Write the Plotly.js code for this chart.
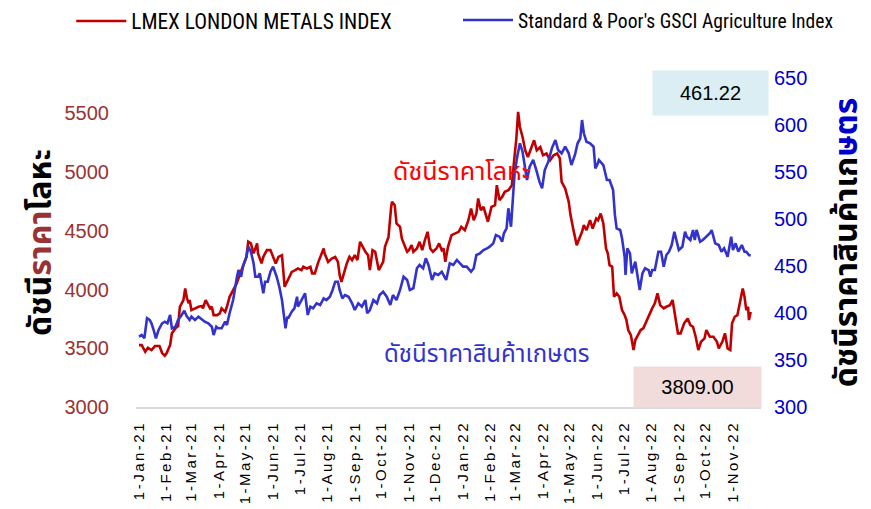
<!DOCTYPE html>
<html>
<head>
<meta charset="utf-8">
<script src="https://cdn.plot.ly/plotly-3.0.1.min.js"></script>
<style>
  html, body { margin: 0; padding: 0; background: #fff; }
  #chart { width: 871px; height: 509px; }
  .xtick text { letter-spacing: 2.5px; }
</style>
</head>
<body>
<div id="chart"></div>
<script>
// Day offsets counted from 1-Jan-2021
const startDate = '2021-01-01';

const metalDay = [0,3,7,10,14,18,23,26,29,31,35,37,41,44,46,50,52,54,56,57,59,63,67,71,72,75,78,80,82,84,88,91,93,97,99,102,106,110,114,117,121,123,126,129,133,134,138,140,144,148,151,154,157,161,164,168,172,176,179,183,185,189,193,195,198,202,206,208,209,213,217,221,224,226,228,231,234,237,240,243,246,249,251,255,258,260,263,266,270,273,275,277,281,284,285,288,290,294,296,299,302,304,307,309,313,316,319,322,325,328,331,335,338,341,343,345,348,352,356,360,363,367,371,374,377,380,382,385,388,391,393,397,401,403,406,409,412,416,420,422,425,427,429,432,435,438,442,445,448,452,455,459,463,467,471,474,476,480,484,486,489,493,496,499,501,504,508,511,515,517,520,523,526,528,530,533,535,538,541,544,547,549,551,554,557,559,562,565,568,572,576,578,581,584,587,591,594,598,601,604,607,610,614,618,621,624,627,630,633,637,639,643,647,651,653,657,660,663,666,668,671,674,677,680,682,684,686,687,689];
const metalValue = [3527,3527,3470,3504,3485,3519,3519,3459,3436,3457,3527,3627,3669,3689,3853,3910,4009,3924,3882,3910,3825,3839,3853,3859,3839,3910,3867,3839,3853,3782,3782,3797,3839,3810,3853,3938,3995,4052,4137,4193,4278,4406,4392,4307,4392,4307,4222,4278,4335,4335,4278,4222,4278,4292,4023,4080,4150,4165,4179,4165,4193,4179,4193,4137,4137,4235,4321,4349,4307,4235,4264,4278,4235,4122,4065,4150,4222,4278,4250,4292,4250,4406,4377,4321,4292,4165,4335,4321,4165,4207,4235,4363,4448,4703,4746,4718,4562,4533,4434,4377,4321,4335,4377,4321,4349,4406,4335,4420,4491,4349,4321,4349,4392,4335,4349,4235,4363,4463,4477,4491,4533,4505,4590,4690,4590,4647,4775,4675,4703,4633,4576,4703,4718,4888,4761,4788,4831,4845,4888,5058,5285,5511,5383,5298,5185,5128,5200,5270,5185,5213,5143,5157,5100,5143,5157,5115,4916,4860,4746,4633,4519,4377,4434,4491,4548,4505,4590,4519,4604,4590,4647,4562,4349,4307,4207,4193,3938,3967,3938,3825,3782,3740,3655,3612,3485,3570,3612,3655,3669,3740,3797,3839,3882,3967,3867,3839,3853,3867,3910,3782,3627,3627,3712,3754,3697,3683,3598,3485,3555,3584,3655,3598,3598,3555,3499,3555,3627,3499,3485,3712,3768,3782,3910,4009,3938,3825,3853,3740,3809];

const agriDay = [0,3,6,9,12,14,17,19,22,26,29,32,35,37,41,44,48,51,54,57,59,63,67,71,74,78,82,84,87,89,93,97,99,102,106,110,112,115,117,121,123,126,129,131,134,136,138,140,142,145,148,151,155,158,161,163,165,167,168,172,175,178,179,183,187,190,193,196,200,204,208,211,215,218,221,224,226,229,232,236,240,243,247,251,255,257,260,264,268,271,275,279,283,286,290,294,298,302,305,309,313,316,320,323,326,330,333,337,341,343,346,350,354,358,362,365,369,374,377,380,384,388,392,395,399,402,406,409,411,414,416,419,421,423,426,429,432,435,437,440,444,448,451,454,457,461,465,469,472,476,480,484,487,491,494,497,499,501,504,508,512,514,516,518,523,527,530,534,535,536,538,542,544,547,548,550,553,555,559,561,564,567,570,574,576,578,581,585,588,591,594,597,600,603,606,608,612,615,617,621,624,626,628,632,635,639,643,645,649,653,656,659,663,667,669,672,675,679,682,684,687,689];
const agriValue = [374.8,376.6,373.1,394.4,392.6,389.0,380.1,373.1,381.9,389.0,390.7,389.0,397.9,383.7,385.4,392.6,397.9,402.4,396.1,392.6,396.1,392.6,396.1,392.6,390.7,389.0,385.4,376.6,385.4,383.7,383.7,390.7,387.2,399.7,413.8,436.9,445.7,438.6,449.3,459.9,470.5,465.2,452.9,438.6,438.6,442.2,433.3,421.0,433.3,433.3,443.9,449.3,438.6,428.0,413.8,399.7,383.7,396.1,394.4,401.4,405.0,417.3,406.7,413.8,421.0,397.9,406.7,405.0,410.3,408.5,415.6,413.8,417.3,424.5,433.3,433.3,424.5,415.6,419.1,417.3,410.3,403.2,410.3,406.7,413.8,399.7,403.2,413.8,410.3,419.1,422.7,417.3,408.5,419.1,413.8,424.5,438.6,435.1,424.5,426.3,447.6,451.1,447.6,458.2,451.1,435.1,442.2,440.4,443.9,440.4,435.1,452.9,451.1,456.4,452.9,449.3,449.3,443.9,447.6,461.7,463.5,467.0,468.8,470.5,474.1,483.0,481.2,475.8,484.8,490.1,511.4,491.8,520.2,548.6,566.3,580.5,571.6,555.6,541.5,555.6,562.8,550.3,539.7,532.7,552.1,561.0,575.2,584.0,573.4,569.9,576.9,569.9,557.4,568.1,580.5,585.8,605.3,591.2,582.2,580.5,576.9,553.9,557.4,562.8,557.4,541.5,541.5,530.8,514.9,504.3,490.1,488.3,479.5,459.9,440.4,468.8,463.5,442.2,454.6,442.2,424.5,442.2,447.6,445.7,438.6,445.7,445.7,465.2,465.2,449.3,461.7,465.2,472.3,486.5,475.8,467.0,470.5,486.5,481.2,477.7,488.3,477.7,488.3,475.8,477.7,481.2,484.8,488.3,474.1,472.3,465.2,468.8,459.9,481.2,467.0,474.1,465.2,472.3,465.2,465.2,461.7,461.22];

const tickDates = ['2021-01-01','2021-02-01','2021-03-01','2021-04-01','2021-05-01','2021-06-01','2021-07-01','2021-08-01','2021-09-01','2021-10-01','2021-11-01','2021-12-01','2022-01-01','2022-02-01','2022-03-01','2022-04-01','2022-05-01','2022-06-01','2022-07-01','2022-08-01','2022-09-01','2022-10-01','2022-11-01'];
const tickLabels = ['1-Jan-21','1-Feb-21','1-Mar-21','1-Apr-21','1-May-21','1-Jun-21','1-Jul-21','1-Aug-21','1-Sep-21','1-Oct-21','1-Nov-21','1-Dec-21','1-Jan-22','1-Feb-22','1-Mar-22','1-Apr-22','1-May-22','1-Jun-22','1-Jul-22','1-Aug-22','1-Sep-22','1-Oct-22','1-Nov-22'];

const metalTicks = [3000,3500,4000,4500,5000,5500];
const agriTicks = [300,350,400,450,500,550,600,650];

const seriesNames = ['LMEX LONDON METALS INDEX', "Standard & Poor's GSCI Agriculture Index"];
const lastMetal = '3809.00';
const lastAgri = '461.22';

function toDate(d) {
  const t = new Date(startDate + 'T00:00:00Z').getTime() + d * 86400000;
  return new Date(t).toISOString().slice(0, 19).replace('T', ' ');
}

const n1 = Math.min(metalDay.length, metalValue.length);
const n2 = Math.min(agriDay.length, agriValue.length);

const thaiFont = "Tahoma, 'Noto Sans Thai', 'Noto Sans Thai UI', Loma, Garuda, 'Norasi', 'DejaVu Sans', sans-serif";
const latinFont = "'Liberation Sans', Arial, sans-serif";
const narrowFont = "'Liberation Sans Narrow', 'Arial Narrow', 'Roboto Condensed', 'Liberation Sans', sans-serif";

const traces = [
  {
    x: metalDay.slice(0, n1).map(toDate),
    y: metalValue.slice(0, n1),
    type: 'scatter', mode: 'lines',
    name: seriesNames[0],
    line: { color: '#c00000', width: 2.6 },
    yaxis: 'y', legend: 'legend'
  },
  {
    x: agriDay.slice(0, n2).map(toDate),
    y: agriValue.slice(0, n2),
    type: 'scatter', mode: 'lines',
    name: seriesNames[1],
    line: { color: '#3333cc', width: 2.6 },
    yaxis: 'y2', legend: 'legend2'
  }
];

const layout = {
  width: 871, height: 509,
  margin: { l: 136, r: 110, t: 78, b: 102, autoexpand: false },
  paper_bgcolor: '#ffffff', plot_bgcolor: '#ffffff',
  showlegend: true,
  legend: {
    orientation: 'h', x: -0.1036, xanchor: 'left', y: 1.235, yanchor: 'top',
    font: { family: narrowFont, size: 21.3, color: '#000' }, itemwidth: 50, bgcolor: 'rgba(0,0,0,0)'
  },
  legend2: {
    orientation: 'h', x: 0.5152, xanchor: 'left', y: 1.235, yanchor: 'top',
    font: { family: narrowFont, size: 19.6, color: '#000' }, itemwidth: 50, bgcolor: 'rgba(0,0,0,0)'
  },
  xaxis: {
    type: 'date',
    range: ['2020-12-28 14:00', '2022-12-02 14:00'],
    tickmode: 'array', tickvals: tickDates, ticktext: tickLabels,
    tickangle: -90,
    tickfont: { family: latinFont, size: 15, color: '#000' },
    ticklabelstandoff: 6,
    showline: true, linecolor: '#d9d9d9', linewidth: 2,
    showgrid: false, zeroline: false, ticks: '', fixedrange: true
  },
  yaxis: {
    range: [3000, 5800],
    tickmode: 'array', tickvals: metalTicks,
    tickfont: { family: latinFont, size: 20, color: '#993333' },
    ticklabelstandoff: 26,
    showgrid: false, zeroline: false, showline: false, ticks: '',
    title: {
      text: 'ดัชนี<span style="color:#993333">ราคา</span>โลหะ',
      font: { family: thaiFont, size: 32, color: '#000', weight: 'bold' },
      standoff: 0
    }
  },
  yaxis2: {
    range: [300, 650], overlaying: 'y', side: 'right',
    tickmode: 'array', tickvals: agriTicks,
    tickfont: { family: latinFont, size: 20, color: '#0000cc' },
    ticklabelstandoff: 12,
    showgrid: false, zeroline: false, showline: false, ticks: '',
    title: {
      text: 'ดัชนีราคาสินค้าเก<span style="color:#0000cc">ษตร</span>',
      font: { family: thaiFont, size: 32, color: '#000', weight: 'bold' },
      standoff: 33
    }
  },
  annotations: [
    {
      xref: 'paper', yref: 'paper', x: 0.9192, y: 0.954, xanchor: 'center', yanchor: 'middle',
      text: lastAgri, showarrow: false, width: 113, height: 42, bgcolor: '#daeef3',
      font: { family: latinFont, size: 20, color: '#000' }
    },
    {
      xref: 'paper', yref: 'paper', x: 0.8976, y: 0.061, xanchor: 'center', yanchor: 'middle',
      text: lastMetal, showarrow: false, width: 125, height: 38, bgcolor: '#f2dcdb',
      font: { family: latinFont, size: 20, color: '#000' }
    },
    {
      xref: 'paper', yref: 'paper', x: 0.52, y: 0.714, xanchor: 'center', yanchor: 'middle',
      text: 'ดัชนีราคาโลหะ', showarrow: false,
      font: { family: thaiFont, size: 25, color: '#ff0000' }
    },
    {
      xref: 'paper', yref: 'paper', x: 0.56, y: 0.158, xanchor: 'center', yanchor: 'middle',
      text: 'ดัชนีราคาสินค้าเกษตร', showarrow: false,
      font: { family: thaiFont, size: 24, color: '#3333cc' }
    }
  ]
};

Plotly.newPlot('chart', traces, layout, { staticPlot: true, displayModeBar: false });
</script>
</body>
</html>
